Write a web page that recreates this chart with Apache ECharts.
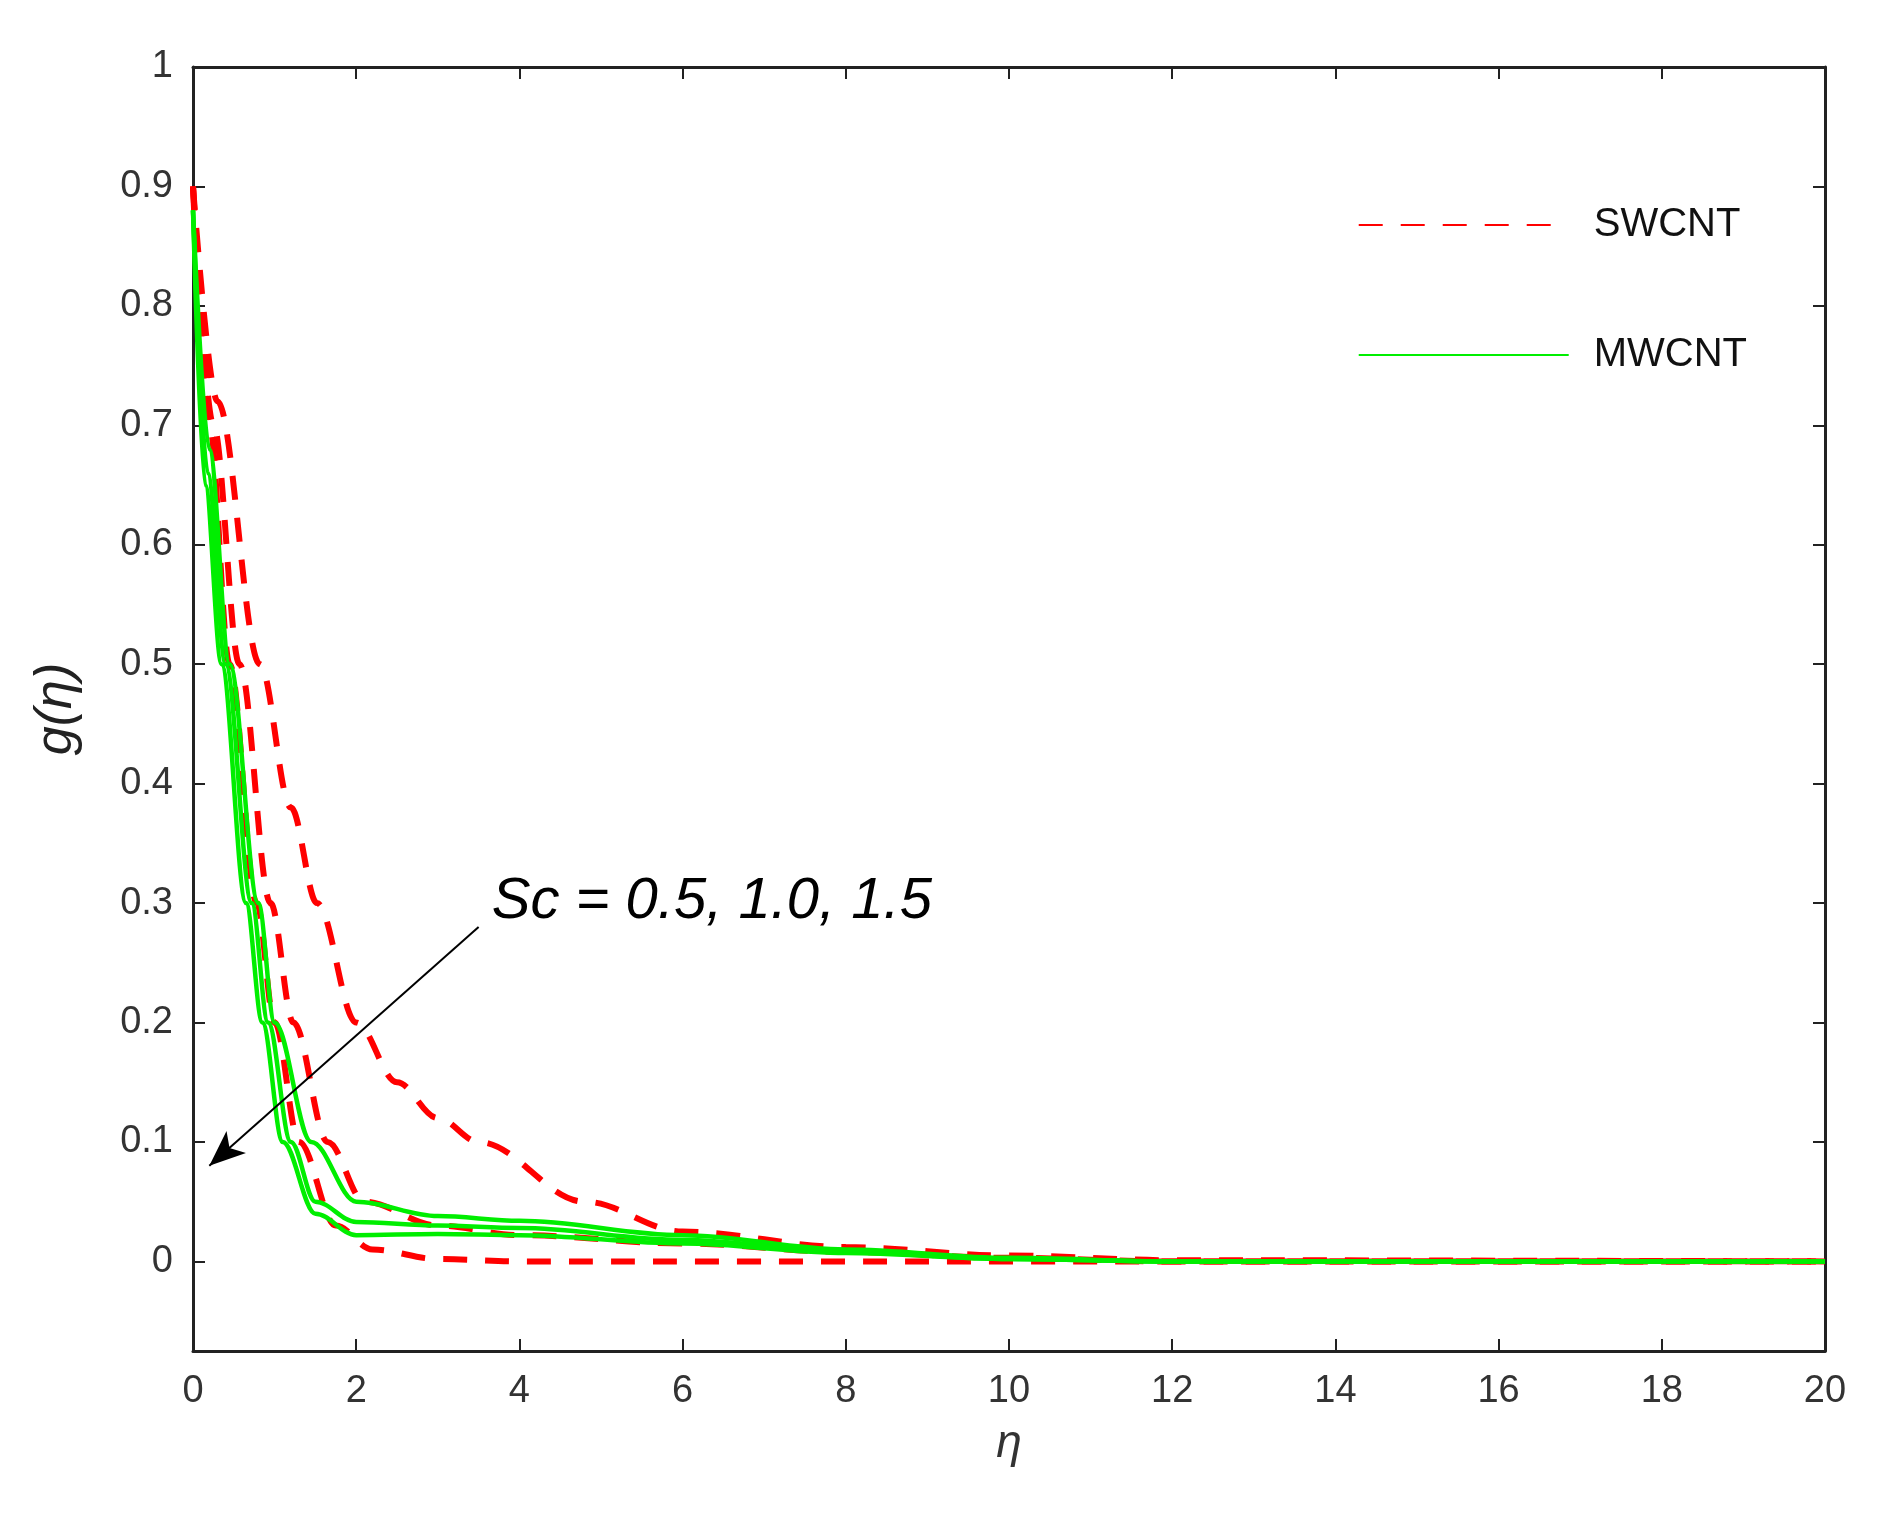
<!DOCTYPE html><html><head><meta charset="utf-8"><script src="https://cdn.jsdelivr.net/npm/echarts@6/dist/echarts.min.js"></script>
<style>html,body{margin:0;background:#fff}#c{width:1902px;height:1524px}</style></head><body><div id="c"></div><script>
const swcnt1=[[0,0.9],[0.3,0.72],[0.82,0.5],[1.2,0.38],[1.52,0.3],[2.0,0.2],[2.5,0.15],[3.0,0.12],[3.5,0.1],[4.8,0.05],[6,0.025],[8,0.012],[10,0.005],[12,0.001],[20,0]];
const swcnt2=[[0,0.9],[0.25,0.7],[0.57,0.5],[0.95,0.3],[1.23,0.2],[1.65,0.1],[2.1,0.05],[3,0.03],[4,0.022],[6,0.015],[8,0.008],[10,0.003],[12,0],[20,0]];
const swcnt3=[[0,0.9],[0.2,0.7],[0.45,0.5],[0.78,0.3],[1.0,0.2],[1.3,0.1],[1.75,0.03],[2.2,0.01],[3,0.002],[4,0],[20,0]];
const mwcnt1=[[0,0.88],[0.2,0.68],[0.45,0.5],[0.8,0.3],[1.0,0.2],[1.45,0.1],[2.0,0.05],[3,0.038],[4,0.034],[6,0.022],[8,0.01],[10,0.003],[12,0],[20,0]];
const mwcnt2=[[0,0.88],[0.18,0.66],[0.4,0.5],[0.72,0.3],[0.92,0.2],[1.2,0.1],[1.5,0.05],[2,0.033],[3,0.03],[4,0.028],[6,0.018],[8,0.008],[10,0.002],[12,0],[20,0]];
const mwcnt3=[[0,0.88],[0.15,0.65],[0.35,0.5],[0.65,0.3],[0.85,0.2],[1.1,0.1],[1.5,0.04],[2,0.022],[3,0.023],[4,0.022],[6,0.015],[8,0.007],[10,0.002],[12,0],[20,0]];
const yTicks=[0,0.1,0.2,0.3,0.4,0.5,0.6,0.7,0.8,0.9,1];
const chart=echarts.init(document.getElementById('c'));
const lab={color:'#333',fontSize:38,fontFamily:'Arial, Liberation Sans'};
const line={onZero:false,show:true,lineStyle:{color:'#222',width:3}};
const tick={show:true,inside:true,length:12,lineStyle:{color:'#222',width:2}};
const red=d=>({type:'line',name:'SWCNT',data:d,smooth:0.35,smoothMonotone:'x',symbol:'none',lineStyle:{color:'#ff0000',width:6,type:[24,18]},itemStyle:{color:'#ff0000'}});
const grn=d=>({type:'line',name:'MWCNT',data:d,smooth:0.35,smoothMonotone:'x',symbol:'none',lineStyle:{color:'#00ee00',width:4.5},itemStyle:{color:'#00ee00'}});
const s=[red(swcnt1),red(swcnt2),red(swcnt3),grn(mwcnt1),grn(mwcnt2),grn(mwcnt3)];
s[0].markLine={silent:true,symbol:['none','arrow'],symbolSize:[22,36],lineStyle:{color:'#000',width:2,type:'solid'},label:{show:false},data:[[{coord:[3.5,0.28]},{coord:[0.2,0.08]}]]};
chart.setOption({animation:false,
grid:{left:193,right:77,top:67,bottom:173},
legend:{right:150,top:200,orient:'vertical',itemGap:90,itemWidth:210,itemHeight:20,itemStyle:{opacity:0},textStyle:{fontSize:40,color:'#111',fontFamily:'Arial, Liberation Sans',padding:[0,0,0,20]},data:['SWCNT','MWCNT']},
xAxis:[{type:'value',min:0,max:20,interval:2,axisLine:line,axisTick:tick,splitLine:{show:false},axisLabel:Object.assign({margin:22},lab),name:'η',nameLocation:'middle',nameGap:70,nameTextStyle:{fontSize:46,fontStyle:'italic',color:'#333'}},
{type:'value',position:'top',min:0,max:20,interval:2,axisLine:line,axisTick:tick,axisLabel:{show:false},splitLine:{show:false}}],
yAxis:[{type:'value',min:-0.075,max:1,axisLine:line,axisTick:Object.assign({customValues:yTicks},tick),splitLine:{show:false},axisLabel:Object.assign({margin:20,customValues:yTicks,formatter:v=>String(Math.round(v*10)/10)},lab),name:'g(η)',nameLocation:'middle',nameGap:110,nameTextStyle:{fontSize:52,fontStyle:'italic',color:'#222'}},
{type:'value',position:'right',min:-0.075,max:1,axisLine:line,axisTick:Object.assign({customValues:yTicks},tick),axisLabel:{show:false},splitLine:{show:false}}],
series:s});
const p=chart.convertToPixel({xAxisIndex:0,yAxisIndex:0},[3.6,0.3]);
chart.setOption({graphic:[{type:'text',left:p[0]+5,top:p[1]-30,style:{text:'Sc = 0.5, 1.0, 1.5',fontSize:58,fontStyle:'italic',fill:'#000',fontFamily:'Arial, Liberation Sans'}}]});
</script></body></html>
